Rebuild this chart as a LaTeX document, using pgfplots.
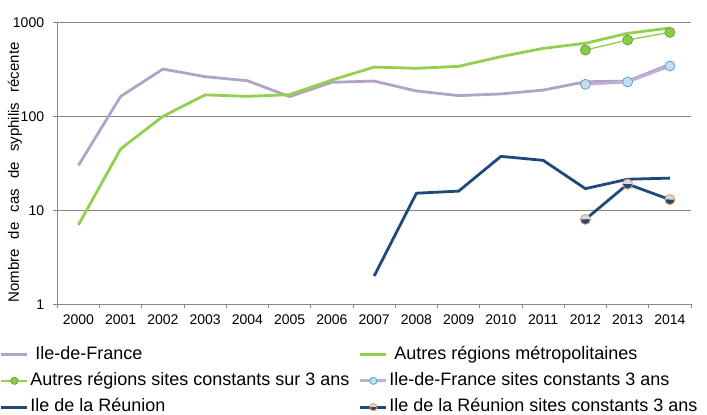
\documentclass[border=0pt]{standalone}
\usepackage{fontspec}
\setmainfont{Liberation Sans}
\usepackage{pgfplots}
\pgfplotsset{compat=1.18}
\usetikzlibrary{plotmarks}
\definecolor{idf}{HTML}{B3A2C7}
\definecolor{idfsite}{HTML}{BFB1D3}
\definecolor{autres}{HTML}{92D050}
\definecolor{greenmark}{HTML}{8CCB4A}
\definecolor{greenborder}{HTML}{6FA23A}
\definecolor{reunion}{HTML}{1F497D}
\definecolor{lightblue}{HTML}{CCD9F0}
\definecolor{tealb}{HTML}{4BACC6}
\definecolor{orangeb}{HTML}{F79646}
\definecolor{gridgray}{HTML}{868686}
\begin{document}
\begin{tikzpicture}[x=1bp,y=1bp]
\useasboundingbox (0,0) rectangle (707,414);
\begin{axis}[
  at={(57.3bp,109.7bp)}, anchor=south west,
  scale only axis, width=633.7bp, height=282bp,
  xmin=-0.5, xmax=14.5,
  ymode=log, ymin=1, ymax=1000,
  xtick={-0.5,0.5,1.5,2.5,3.5,4.5,5.5,6.5,7.5,8.5,9.5,10.5,11.5,12.5,13.5,14.5},
  x tick label as interval,
  xticklabels={2000,2001,2002,2003,2004,2005,2006,2007,2008,2009,2010,2011,2012,2013,2014},
  ytick={1,10,100,1000}, yticklabels={1,10,100,1000},
  yminorticks=false,
  ymajorgrids, grid style={draw=gridgray, line width=0.8bp},
  axis lines*=left,
  axis line style={draw=gridgray, line width=0.8bp},
  tick style={draw=gridgray, line width=0.8bp},
  tick align=outside, major tick length=4bp,
  ticklabel style={font=\fontsize{14bp}{16bp}\selectfont, text=black},
  yticklabel style={inner sep=0pt, anchor=east, xshift=-9bp},
  xticklabel style={inner sep=0pt, anchor=north, yshift=-6.5bp},
  ylabel={Nombre\hspace{6bp} de\hspace{6bp} cas\hspace{6bp} de\hspace{6bp} syphilis\hspace{6bp} récente},
  ylabel style={at={(axis description cs:-0.0668,0.4674)}, anchor=center, font=\fontsize{15bp}{17bp}\selectfont},
  legend columns=2,
  legend cell align=left,
  legend style={at={(axis description cs:-0.0904,-0.1426)}, anchor=north west,
    draw=none, fill=none, inner sep=0pt, outer sep=0pt,
    font=\fontsize{18bp}{20bp}\selectfont, row sep=6.3bp,
    nodes={inner sep=1.5bp, text height=13bp, text depth=4bp},
    /tikz/every even column/.append style={column sep=8bp}},
  legend image code/.code={\draw[mark repeat=2,mark phase=2,#1,mark size=3.6bp] plot coordinates {(0bp,0bp) (13bp,0bp) (26bp,0bp)};},
]
\addplot[idf, line width=2.8bp, line join=round] coordinates {
(0,30) (1,163) (2,318) (3,264) (4,239) (5,162) (6,230) (7,237) (8,186) (9,166) (10,173) (11,190) (12,233) (13,237) (14,357)};
\addlegendentry{\hspace*{5bp}Ile-de-France}
\addplot[autres, line width=2.8bp, line join=round] coordinates {
(0,7) (1,45) (2,100) (3,169) (4,163) (5,170) (6,243) (7,334) (8,324) (9,340) (10,431) (11,528) (12,598) (13,764) (14,869)};
\addlegendentry{\hspace*{5bp}Autres régions métropolitaines}
\addplot[autres, line width=1.4bp, mark=*, mark size=5bp, mark options={fill=greenmark, draw=greenborder, line width=0.8bp}] coordinates {
(12,507) (13,648) (14,782)};
\addlegendentry{Autres régions sites constants sur 3 ans}
\addplot[idfsite, line width=2.8bp, mark=*, mark size=5bp, mark options={fill=lightblue, draw=tealb, line width=0.8bp}] coordinates {
(12,219) (13,232) (14,343)};
\addlegendentry{Ile-de-France sites constants 3 ans}
\addplot[reunion, line width=2.8bp, line join=round] coordinates {
(7,2) (8,15.2) (9,16) (10,37.5) (11,34) (12,17) (13,21.4) (14,22)};
\addlegendentry{Ile de la Réunion}
\addplot[reunion, line width=2.8bp, mark=halfcircle*, mark size=5bp, mark options={color=orangeb, fill=lightblue, mark color=reunion, line width=0.8bp}] coordinates {
(12,8) (13,19) (14,13)};
\addlegendentry{Ile de la Réunion sites constants 3 ans}
\end{axis}
\end{tikzpicture}
\end{document}
